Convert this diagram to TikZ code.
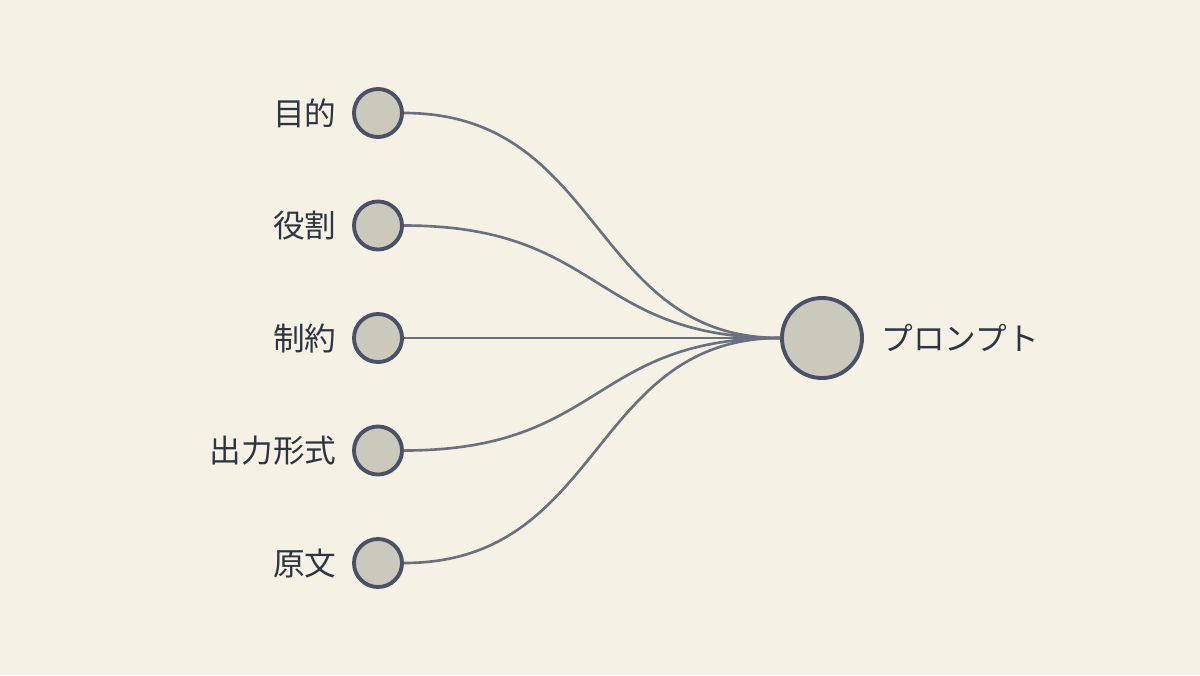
\documentclass[tikz,border=0pt]{standalone}
\usepackage{fontspec}
\setmainfont{Noto Sans CJK JP}
\usepackage{tikz}
\usetikzlibrary{positioning}

\definecolor{paper}{HTML}{F5F1E4}
\definecolor{dotfill}{HTML}{CBC8BC}
\definecolor{dotline}{HTML}{4A5068}
\definecolor{wire}{HTML}{6B7080}
\definecolor{ink}{HTML}{2E3440}

\tikzset{
  dot/.style={circle, draw=dotline, fill=dotfill, line width=1.1pt, inner sep=0pt},
  label text/.style={text=ink, font=\fontsize{9}{9}\selectfont, inner sep=0pt},
  wire line/.style={draw=wire, line width=0.75pt}
}

\begin{document}
\begin{tikzpicture}[x=0.01cm,y=-0.01cm]
        \fill[paper] (0,0) rectangle (1200,675);
        \useasboundingbox (0,0) rectangle (1200,675);
        \node[dot, minimum size=0.8cm] (prompt) at (822,338) {};
        \node[label text, right=0.17cm of prompt] (promptlabel) {プロンプト};
            \foreach \Value/\Text in {0/{目的},1/{役割},2/{制約},3/{出力形式},4/{原文}}
            {
              \node[dot, minimum size=0.48cm] (in\Value) at (378,113+112.5*\Value) {};
              \node[label text, left=0.15cm of in\Value] (label\Value) {\Text};
              \draw[wire line] (in\Value.east) .. controls +(200,0) and +(-190,0) .. (prompt.west);
            }
    \end{tikzpicture}
\end{document}
